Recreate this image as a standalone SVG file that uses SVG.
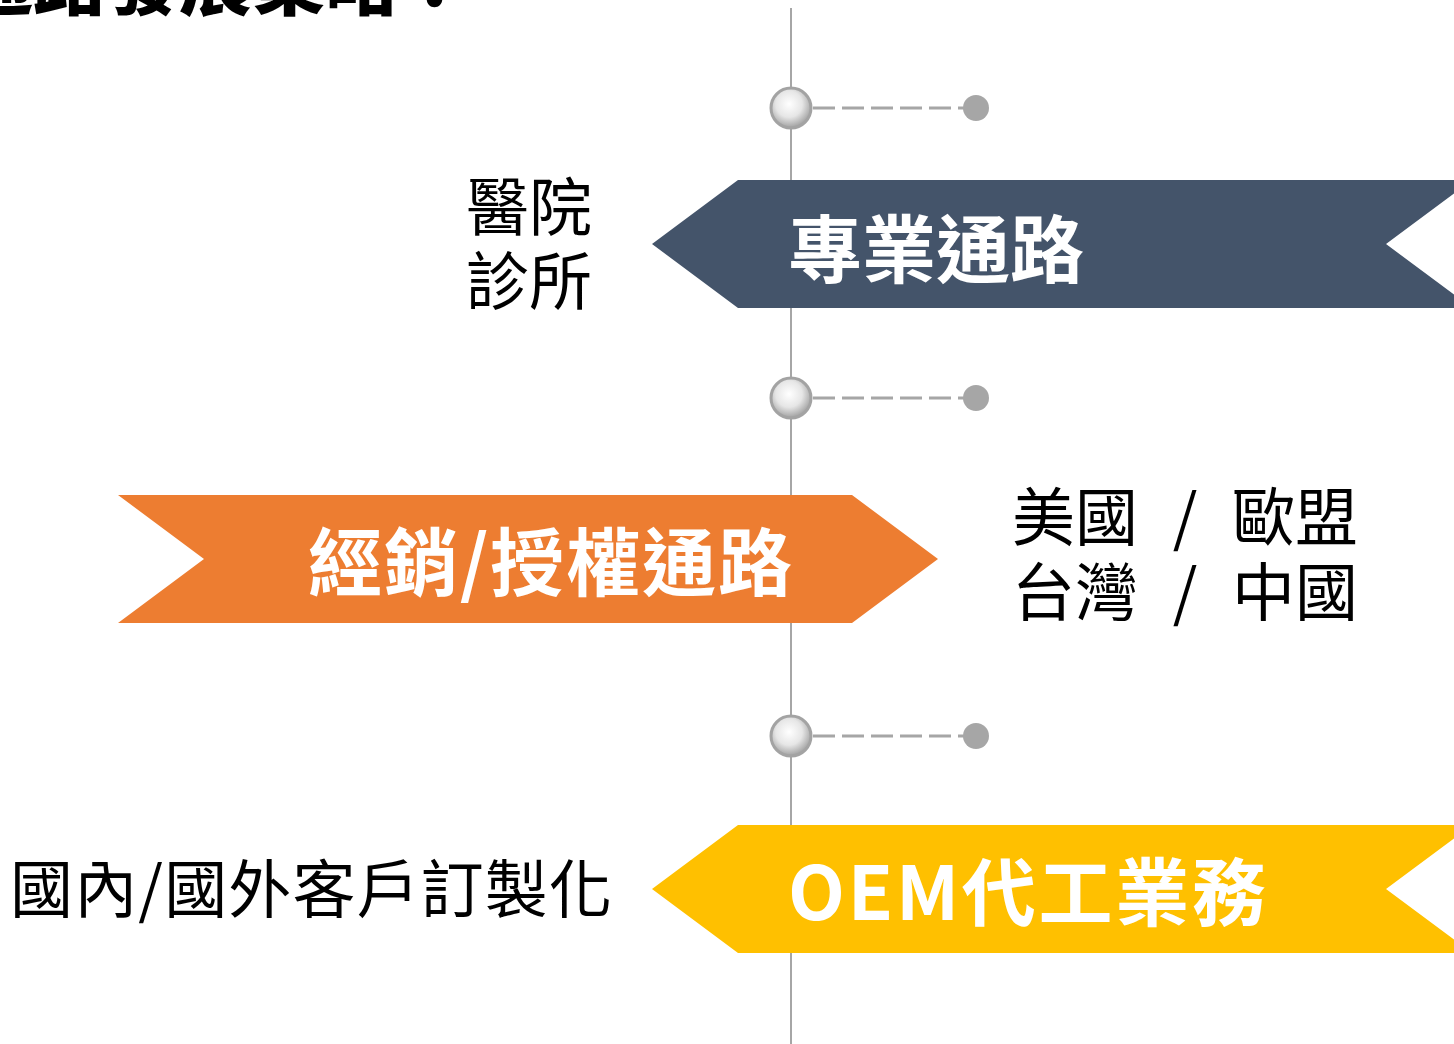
<svg xmlns="http://www.w3.org/2000/svg" width="1454" height="1044" viewBox="0 0 1454 1044">
<defs>
<radialGradient id="knob" cx="0.45" cy="0.4" r="0.6">
<stop offset="0" stop-color="#ffffff"/>
<stop offset="0.55" stop-color="#e6e6e6"/>
<stop offset="1" stop-color="#a0a0a0"/>
</radialGradient>
<style>
.cjk{font-family:"Noto Sans CJK TC","Noto Sans CJK SC",sans-serif;}
.lbl{font-size:63px;fill:#000;}
.ban{font-size:74px;font-weight:700;fill:#fff;}
.title{font-size:73px;font-weight:900;fill:#000;}
.axis{stroke:#a6a6a6;stroke-width:2;fill:none;}
.dash{stroke:#a6a6a6;stroke-width:3;stroke-dasharray:22 7;fill:none;}
.knob{fill:url(#knob);stroke:#a3a3a3;stroke-width:3;}
.dot{fill:#a6a6a6;}
</style>
</defs>
<rect width="1454" height="1044" fill="#ffffff"/>
<text class="cjk title" x="-40" y="9" textLength="511" lengthAdjust="spacing">通路發展策略：</text>
<g id="connectors">
<line class="axis" x1="791" y1="8" x2="791" y2="1044"/>
<line class="dash" x1="813" y1="108" x2="966" y2="108"/>
<line class="dash" x1="813" y1="398" x2="966" y2="398"/>
<line class="dash" x1="813" y1="736" x2="966" y2="736"/>
</g>
<g id="marker-1"><circle class="knob" cx="791" cy="108" r="20"/><circle class="dot" cx="976" cy="108" r="13"/></g>
<g id="marker-2"><circle class="knob" cx="791" cy="398" r="20"/><circle class="dot" cx="976" cy="398" r="13"/></g>
<g id="marker-3"><circle class="knob" cx="791" cy="736" r="20"/><circle class="dot" cx="976" cy="736" r="13"/></g>
<g id="professional">
<polygon points="652,244 738,180 1472,180 1386,244 1472,308 738,308" fill="#44546a"/>
<text class="cjk ban" x="788" y="277" textLength="296" lengthAdjust="spacing">專業通路</text>
</g>
<g id="professional-label">
<text class="cjk lbl" x="466" y="230" textLength="126" lengthAdjust="spacing">醫院</text>
<text class="cjk lbl" x="466" y="304" textLength="126" lengthAdjust="spacing">診所</text>
</g>
<g id="distribution">
<polygon points="118,495 852,495 938,559 852,623 118,623 204,559" fill="#ed7d31"/>
<text class="cjk ban" x="308" y="590" textLength="484" lengthAdjust="spacing">經銷/授權通路</text>
</g>
<g id="distribution-label">
<text class="cjk lbl" x="1012" y="540" textLength="126" lengthAdjust="spacing">美國</text>
<text class="cjk lbl" x="1185" y="540" text-anchor="middle">/</text>
<text class="cjk lbl" x="1232" y="540" textLength="126" lengthAdjust="spacing">歐盟</text>
<text class="cjk lbl" x="1012" y="615" textLength="126" lengthAdjust="spacing">台灣</text>
<text class="cjk lbl" x="1185" y="615" text-anchor="middle">/</text>
<text class="cjk lbl" x="1232" y="615" textLength="126" lengthAdjust="spacing">中國</text>
</g>
<g id="oem">
<polygon points="652,889 738,825 1472,825 1386,889 1472,953 738,953" fill="#ffc000"/>
<text class="cjk ban" x="788" y="920" textLength="478" lengthAdjust="spacing">OEM代工業務</text>
</g>
<g id="oem-label">
<text class="cjk lbl" x="10" y="912" textLength="602" lengthAdjust="spacing">國內/國外客戶訂製化</text>
</g>
</svg>
